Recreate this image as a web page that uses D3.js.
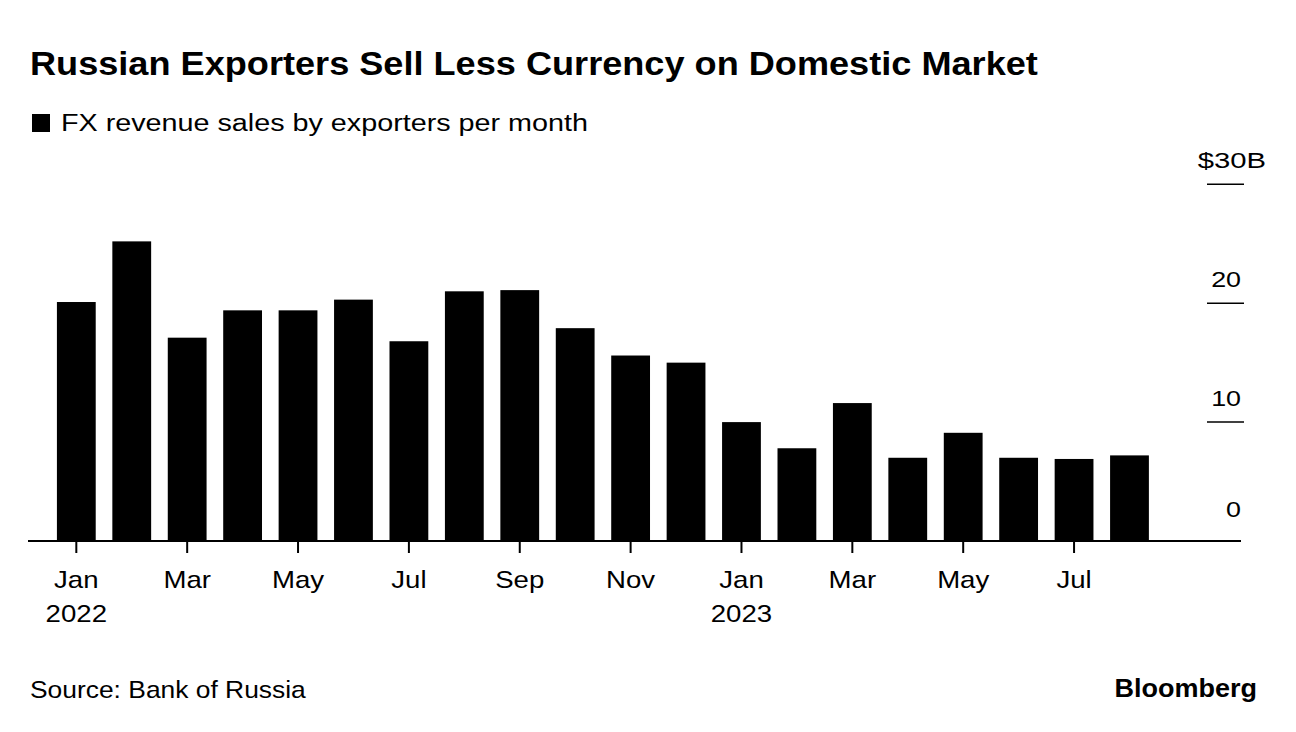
<!DOCTYPE html>
<html>
<head>
<meta charset="utf-8">
<script src="https://cdn.jsdelivr.net/npm/d3@7"></script>
<style>
  html, body { margin: 0; padding: 0; background: #fff; }
  svg { display: block; font-family: "Liberation Sans", Arial, sans-serif; }
</style>
</head>
<body>
<svg id="chart" width="1296" height="732"></svg>
<script>
const months = ["2022-01","2022-02","2022-03","2022-04","2022-05","2022-06","2022-07","2022-08","2022-09","2022-10","2022-11","2022-12",
                "2023-01","2023-02","2023-03","2023-04","2023-05","2023-06","2023-07","2023-08"];
const fxSales = [20.1, 25.2, 17.1, 19.4, 19.4, 20.3, 16.8, 21.0, 21.1, 17.9, 15.6, 15.0,
                 10.0, 7.8, 11.6, 7.0, 9.1, 7.0, 6.9, 7.2];
const yTicks = [0, 10, 20, 30];
const xTickLabels = ["Jan","","Mar","","May","","Jul","","Sep","","Nov","",
                     "Jan","","Mar","","May","","Jul",""];
const yearLabels = {"2022-01": "2022", "2023-01": "2023"};

const svg = d3.select("#chart");

// text helper: position via transform with a horizontal stretch (wide grotesk look)
function txt(parent, x, y, s, size, sx, opts = {}) {
  return parent.append("text")
    .attr("transform", `translate(${x},${y}) scale(${sx},1)`)
    .attr("font-size", size)
    .attr("font-weight", opts.bold ? "bold" : null)
    .attr("text-anchor", opts.anchor || "start")
    .attr("fill", "#000")
    .text(s);
}

// Title & legend
txt(svg, 30, 75, "Russian Exporters Sell Less Currency on Domestic Market", 33, 1.095, {bold: true});
svg.append("rect").attr("x", 32).attr("y", 114).attr("width", 18).attr("height", 18).attr("fill", "#000");
txt(svg, 61, 131, "FX revenue sales by exporters per month", 23, 1.25);

// Scales
const x = d3.scaleBand().domain(months).range([48.6, 1157.2]).paddingInner(0.3).paddingOuter(0.15);
const y = d3.scaleLinear().domain([0, 30]).range([541, 184.3]);

// Bars
svg.append("g").selectAll("rect").data(months).join("rect")
  .attr("x", d => x(d))
  .attr("width", x.bandwidth())
  .attr("y", (d, i) => y(fxSales[i]))
  .attr("height", (d, i) => y(0) - y(fxSales[i]))
  .attr("fill", "#000");

// Right y axis: tick lines and labels
const yg = svg.append("g");
yg.selectAll("line").data(yTicks.filter(d => d > 0)).join("line")
  .attr("x1", 1207).attr("x2", 1244)
  .attr("y1", d => y(d)).attr("y2", d => y(d))
  .attr("stroke", "#000").attr("stroke-width", 1.5);
yTicks.forEach(d => {
  const ly = y(d) - (d === 0 ? 24 : 16);
  if (d === 30) txt(yg, 1266, ly, "$" + d + "B", 22, 1.33, {anchor: "end"});
  else txt(yg, 1241, ly, String(d), 22, 1.22, {anchor: "end"});
});

// X axis baseline and ticks
svg.append("line").attr("x1", 28).attr("x2", 1241).attr("y1", y(0)).attr("y2", y(0))
  .attr("stroke", "#000").attr("stroke-width", 2);
const tickMonths = months.filter((d, i) => xTickLabels[i] !== "");
const cx = d => x(d) + x.bandwidth() / 2;
svg.append("g").selectAll("line").data(tickMonths).join("line")
  .attr("x1", cx).attr("x2", cx).attr("y1", y(0)).attr("y2", y(0) + 12)
  .attr("stroke", "#000").attr("stroke-width", 2);
const xl = svg.append("g");
tickMonths.forEach(d => txt(xl, cx(d), 588, xTickLabels[months.indexOf(d)], 24, 1.15, {anchor: "middle"}));
Object.keys(yearLabels).forEach(d => txt(xl, cx(d), 622, yearLabels[d], 24, 1.15, {anchor: "middle"}));

// Footer
txt(svg, 30, 698, "Source: Bank of Russia", 24, 1.1);
txt(svg, 1257, 697, "Bloomberg", 25, 1.08, {bold: true, anchor: "end"});
</script>
</body>
</html>
